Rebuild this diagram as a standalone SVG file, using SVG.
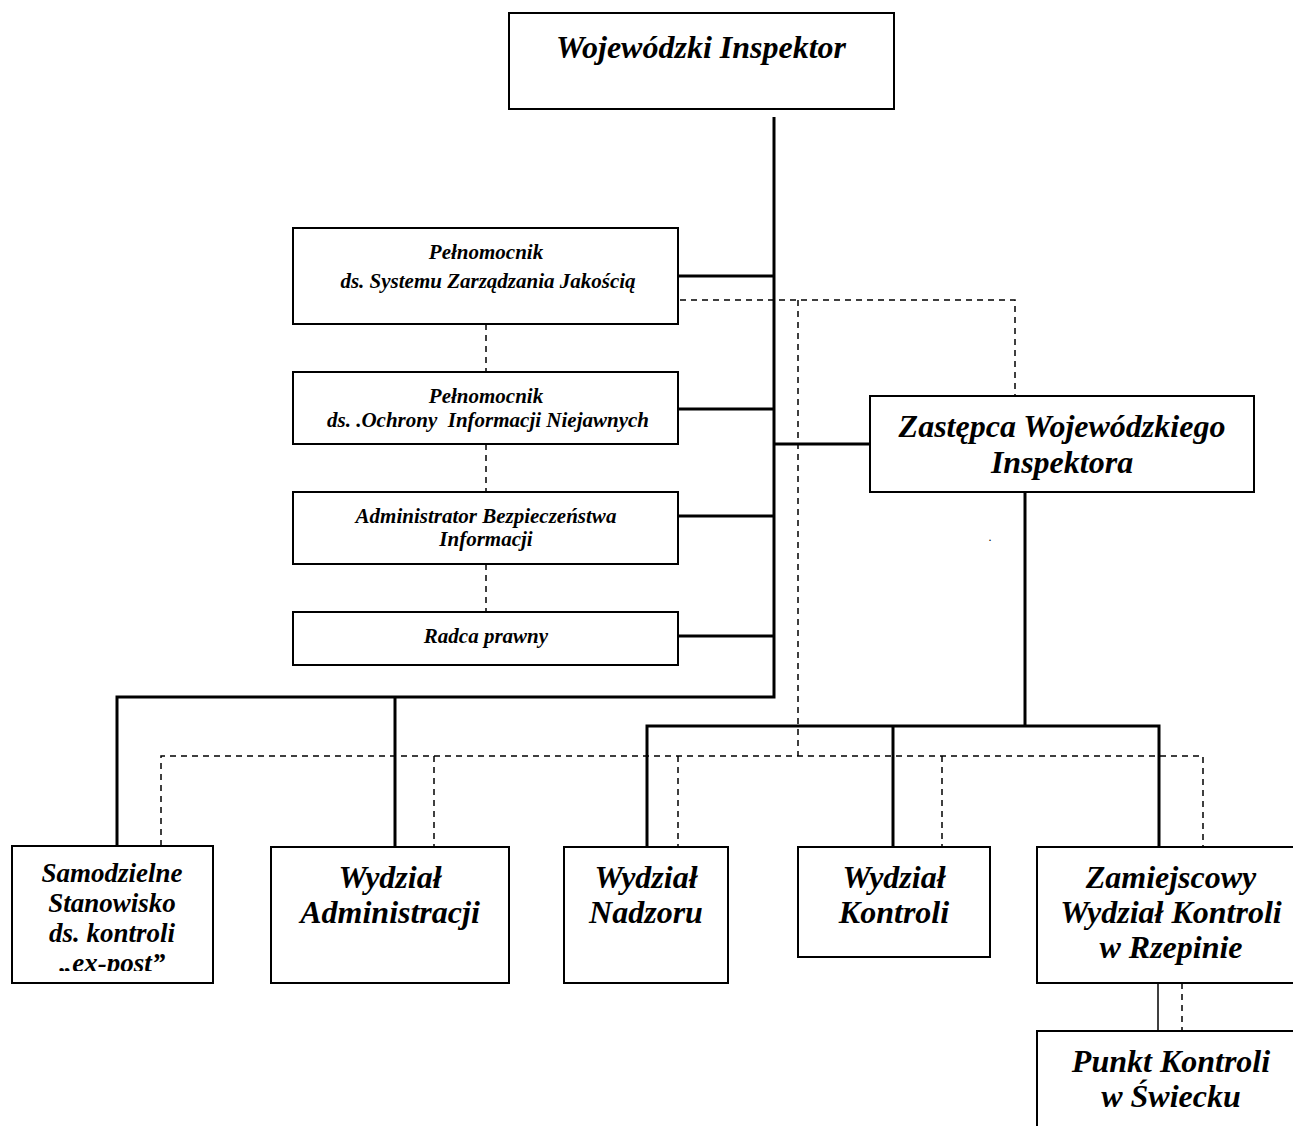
<svg xmlns="http://www.w3.org/2000/svg" width="1293" height="1126" viewBox="0 0 1293 1126">
<style>
  .box { fill: #ffffff; stroke: #000000; stroke-width: 2; }
  .solid { fill: none; stroke: #000000; stroke-width: 3; }
  .thin { fill: none; stroke: #000000; stroke-width: 1.5; }
  .dash { fill: none; stroke: #000000; stroke-width: 1.5; stroke-dasharray: 6 5; }
  text { font-family: "Liberation Serif", "Times New Roman", serif; font-weight: bold; font-style: italic; fill: #000000; text-anchor: middle; }
  .big { font-size: 32px; }
  .mid { font-size: 27px; }
  .small { font-size: 21px; }
</style>
<defs>
  <clipPath id="clipSam"><rect x="13" y="847" width="199" height="124"/></clipPath>
</defs>
<rect x="0" y="0" width="1293" height="1126" fill="#ffffff"/>

<g id="connectors">
  <path class="solid" d="M774,117 V697 H117 V846"/>
  <path class="solid" d="M395,697 V847"/>
  <path class="solid" d="M678,276 H774"/>
  <path class="solid" d="M678,409 H774"/>
  <path class="solid" d="M678,516 H774"/>
  <path class="solid" d="M678,636 H774"/>
  <path class="solid" d="M774,444 H870"/>
  <path class="solid" d="M1025,492 V726"/>
  <path class="solid" d="M647,847 V726 H1159 V847"/>
  <path class="solid" d="M893,726 V847"/>
  <path class="thin" d="M1158,983 V1031"/>
  <path class="dash" d="M1182,983 V1031"/>
  <path class="dash" d="M486,324 V372"/>
  <path class="dash" d="M486,444 V492"/>
  <path class="dash" d="M486,564 V612"/>
  <path class="dash" d="M680,300 H1015 V396"/>
  <path class="dash" d="M798,300 V756"/>
  <path class="dash" d="M161,846 V756 H1203 V847"/>
  <path class="dash" d="M434,756 V847"/>
  <path class="dash" d="M678,756 V847"/>
  <path class="dash" d="M942,756 V847"/>
</g>

<g id="wojewodzki-inspektor">
  <rect class="box" x="509" y="13" width="385" height="96"/>
  <text class="big" x="701" y="58">Wojewódzki Inspektor</text>
</g>

<g id="pelnomocnik-szzj">
  <rect class="box" x="293" y="228" width="385" height="96"/>
  <text class="small" x="486" y="259">Pełnomocnik</text>
  <text class="small" x="488" y="288">ds. Systemu Zarządzania Jakością</text>
</g>

<g id="pelnomocnik-oin">
  <rect class="box" x="293" y="372" width="385" height="72"/>
  <text class="small" x="486" y="403">Pełnomocnik</text>
  <text class="small" x="488" y="427" xml:space="preserve">ds. .Ochrony  Informacji Niejawnych</text>
</g>

<g id="abi">
  <rect class="box" x="293" y="492" width="385" height="72"/>
  <text class="small" x="486" y="523">Administrator Bezpieczeństwa</text>
  <text class="small" x="486" y="546">Informacji</text>
</g>

<g id="radca">
  <rect class="box" x="293" y="612" width="385" height="53"/>
  <text class="small" x="486" y="643">Radca prawny</text>
</g>

<g id="zastepca">
  <rect class="box" x="870" y="396" width="384" height="96"/>
  <text class="big" x="1062" y="437">Zastępca Wojewódzkiego</text>
  <text class="big" x="1062" y="473">Inspektora</text>
  <text x="990" y="541" style="font-size:12px; font-style:normal; font-weight:normal;">.</text>
</g>

<g id="samodzielne">
  <rect class="box" x="12" y="846" width="201" height="137"/>
  <g clip-path="url(#clipSam)">
    <text class="mid" x="112" y="882">Samodzielne</text>
    <text class="mid" x="112" y="912">Stanowisko</text>
    <text class="mid" x="112" y="942">ds. kontroli</text>
    <text class="mid" x="112" y="972">„ex-post”</text>
  </g>
</g>

<g id="administracji">
  <rect class="box" x="271" y="847" width="238" height="136"/>
  <text class="big" x="390" y="888">Wydział</text>
  <text class="big" x="390" y="923">Administracji</text>
</g>

<g id="nadzoru">
  <rect class="box" x="564" y="847" width="164" height="136"/>
  <text class="big" x="646" y="888">Wydział</text>
  <text class="big" x="646" y="923">Nadzoru</text>
</g>

<g id="kontroli">
  <rect class="box" x="798" y="847" width="192" height="110"/>
  <text class="big" x="894" y="888">Wydział</text>
  <text class="big" x="894" y="923">Kontroli</text>
</g>

<g id="zamiejscowy">
  <rect class="box" x="1037" y="847" width="268" height="136"/>
  <text class="big" x="1171" y="888">Zamiejscowy</text>
  <text class="big" x="1171" y="923">Wydział Kontroli</text>
  <text class="big" x="1171" y="958">w Rzepinie</text>
</g>

<g id="punkt">
  <rect class="box" x="1037" y="1031" width="268" height="110"/>
  <text class="big" x="1171" y="1072">Punkt Kontroli</text>
  <text class="big" x="1171" y="1107">w Świecku</text>
</g>
</svg>
